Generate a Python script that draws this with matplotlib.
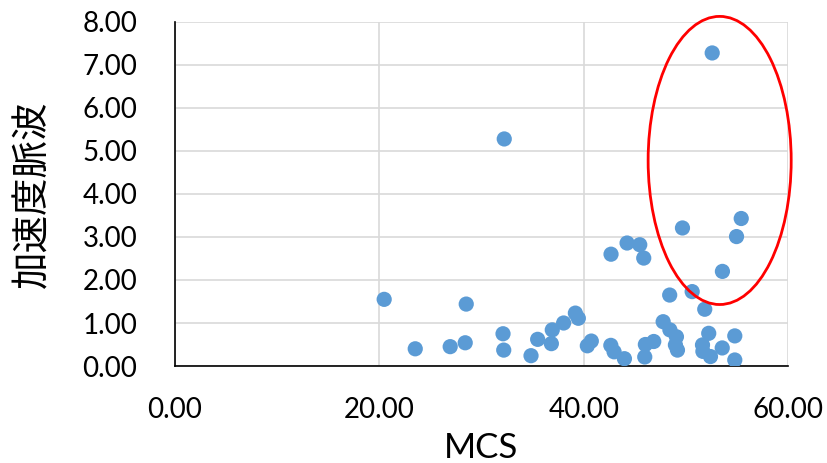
import matplotlib
import matplotlib.pyplot as plt
from matplotlib.patches import Ellipse

matplotlib.use('agg')

mcs = [20.47, 23.51, 26.93, 28.40, 28.50, 32.10, 32.17, 32.22, 34.84, 35.49,
       36.83, 36.92, 38.03, 39.18, 39.47, 40.35, 40.74, 42.67, 42.65, 42.97,
       43.98, 44.24, 45.48, 45.87, 45.97, 46.03, 46.85, 47.77, 48.41, 48.43,
       49.07, 48.97, 49.17, 49.66, 50.61, 51.84, 52.23, 51.62, 51.66, 52.40,
       52.57, 53.57, 53.55, 54.78, 54.78, 54.95, 55.41]
pulse = [1.55, 0.40, 0.45, 0.54, 1.44, 0.75, 0.37, 5.28, 0.24, 0.62,
         0.52, 0.84, 1.00, 1.23, 1.11, 0.47, 0.58, 2.60, 0.48, 0.33,
         0.17, 2.86, 2.82, 2.51, 0.21, 0.50, 0.57, 1.03, 1.65, 0.84,
         0.68, 0.49, 0.37, 3.21, 1.73, 1.32, 0.76, 0.49, 0.34, 0.22,
         7.28, 2.20, 0.42, 0.70, 0.14, 3.01, 3.43]
x_ticks = [0, 20, 40, 60]
y_ticks = [0, 1, 2, 3, 4, 5, 6, 7, 8]

plt.rcParams['font.family'] = ['Lato', 'Noto Sans CJK JP', 'DejaVu Sans']

fig = plt.figure(figsize=(8.27, 4.63), dpi=100)
ax = fig.add_axes([0.2116, 0.2095, 0.7414, 0.743])

ax.scatter(mcs, pulse, s=120, color='#5B9BD5', edgecolors='none', zorder=3)

ax.set_xlim(0, 60)
ax.set_ylim(0, 8)
ax.set_xticks(x_ticks)
ax.set_xticklabels([f'{v:.2f}' for v in x_ticks])
ax.set_yticks(y_ticks)
ax.set_yticklabels([f'{v:.2f}' for v in y_ticks])

ax.grid(True, color='#d9d9d9', linewidth=1.2, zorder=0)
ax.set_axisbelow(True)
for side in ('top', 'right'):
    ax.spines[side].set_visible(False)
ax.spines['left'].set_color('black')
ax.spines['bottom'].set_color('black')
ax.spines['left'].set_linewidth(1.2)
ax.spines['bottom'].set_linewidth(1.2)
ax.tick_params(axis='x', length=0, pad=22, labelsize=20)
ax.tick_params(axis='y', length=0, pad=27, labelsize=20)

ax.set_xlabel('MCS', fontsize=25, labelpad=7)
ax.set_ylabel('加速度脈波', family=['Noto Sans CJK JP'], fontsize=27, labelpad=22)

ellipse = Ellipse((53.3, 4.78), 14.0, 6.7, fill=False, edgecolor='red',
                  linewidth=2, clip_on=False, zorder=4)
ax.add_patch(ellipse)

plt.savefig('out.png', dpi=100)
